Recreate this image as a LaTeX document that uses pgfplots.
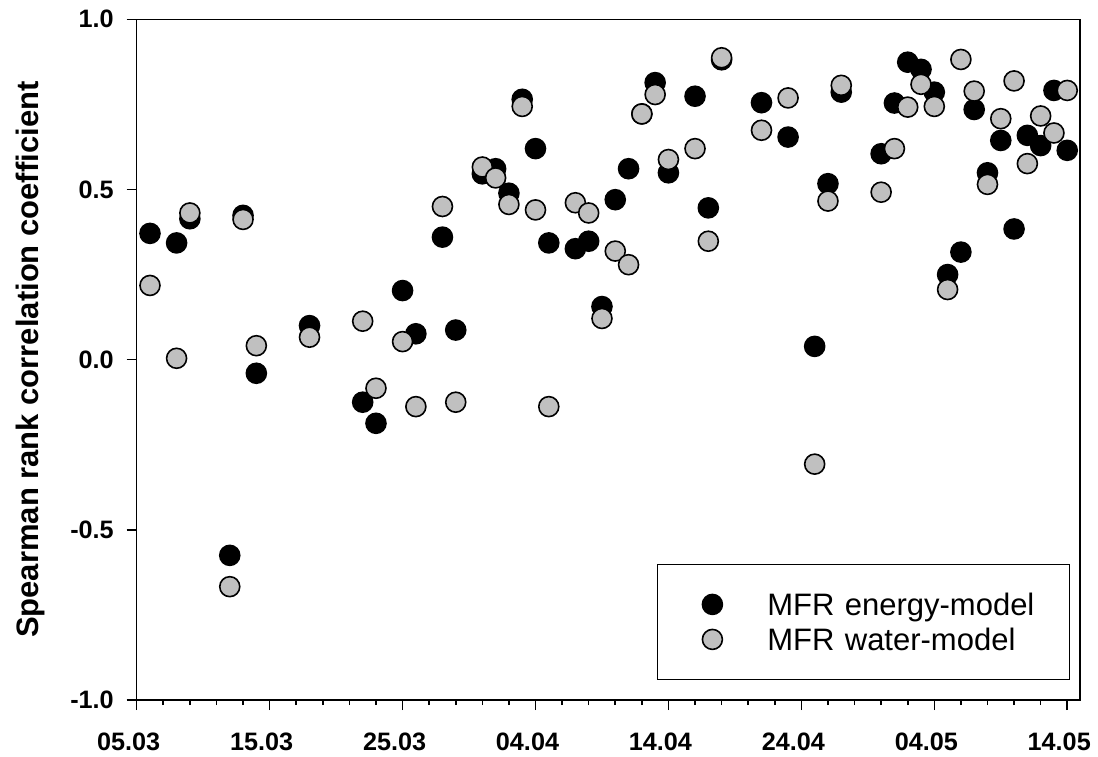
\documentclass[border=0pt]{standalone}
\usepackage{fontspec}
\setmainfont{Liberation Sans}
\usepackage{pgfplots}
\pgfplotsset{compat=1.18}
\definecolor{markgray}{RGB}{192,192,192}
\begin{document}
\begin{tikzpicture}
\begin{axis}[
  scale only axis,
  width=471.65pt, height=340.35pt,
  xmin=0, xmax=70.96, ymin=-1, ymax=1,
  axis line style={line width=0.8pt},
  tick style={line width=0.8pt, black},
  tick align=outside, tick pos=left,
  major tick length=5pt, minor tick length=2.6pt,
  xtick={0,10,...,70},
  xticklabels={05.03,15.03,25.03,04.04,14.04,24.04,04.05,14.05},
  minor xtick={2,4,...,68},
  ytick={-1,-0.5,0,0.5,1},
  yticklabels={-1.0,-0.5,0.0,0.5,1.0},
  ticklabel style={font=\fontsize{12.6}{14}\selectfont\bfseries, inner sep=0pt},
  xticklabel style={xshift=-4pt},
  xticklabel shift=11pt,
  yticklabel shift=6.3pt,
  ylabel={Spearman rank correlation coefficient},
  ylabel style={font=\fontsize{15.5}{18}\selectfont\bfseries, at={(axis description cs:-0.1131,0.5)}, anchor=center, inner sep=0pt},
  legend style={at={(axis description cs:0.98940,0.02938)}, anchor=south east,
    draw=black, line width=0.6pt, fill=white, inner xsep=0pt, inner ysep=11.25pt,
    font=\fontsize{15.5}{18}\selectfont, row sep=0pt,
    nodes={inner sep=0pt, text height=14.3pt, text depth=3.2pt, text width=151pt, align=left}},
  legend image code/.code={\path[draw=none,fill=none] (-27.5pt,0pt) -- (27.5pt,0pt); \draw[#1] plot coordinates {(0pt,0pt)};},
]
\addplot[only marks, mark=*, mark size=5pt, mark options={draw=black, fill=black, line width=0.8pt}] coordinates {
(1,0.371)(3,0.343)(4,0.414)(7,-0.575)(8,0.424)(9,-0.040)(13,0.100)(17,-0.125)(18,-0.187)(20,0.203)(21,0.076)(23,0.360)(24,0.087)(26,0.546)(27,0.561)(28,0.489)(29,0.765)(30,0.620)(31,0.343)(33,0.326)(34,0.348)(35,0.156)(36,0.470)(37,0.561)(38,0.722)(39,0.814)(40,0.549)(42,0.774)(43,0.446)(44,0.881)(47,0.755)(49,0.654)(51,0.039)(52,0.517)(53,0.786)(56,0.605)(57,0.754)(58,0.874)(59,0.853)(60,0.786)(61,0.250)(62,0.316)(63,0.735)(64,0.549)(65,0.644)(66,0.384)(67,0.659)(68,0.629)(69,0.791)(70,0.615)
};
\addlegendentry{MFR energy-model}
\addplot[only marks, mark=*, mark size=5pt, mark options={draw=black, fill=markgray, line width=0.8pt}] coordinates {
(1,0.218)(3,0.004)(4,0.431)(7,-0.667)(8,0.412)(9,0.041)(13,0.066)(17,0.113)(18,-0.084)(20,0.053)(21,-0.138)(23,0.450)(24,-0.125)(26,0.566)(27,0.534)(28,0.456)(29,0.744)(30,0.440)(31,-0.138)(33,0.461)(34,0.431)(35,0.121)(36,0.319)(37,0.279)(38,0.722)(39,0.779)(40,0.588)(42,0.620)(43,0.348)(44,0.887)(47,0.674)(49,0.769)(51,-0.307)(52,0.466)(53,0.806)(56,0.492)(57,0.620)(58,0.742)(59,0.809)(60,0.744)(61,0.206)(62,0.882)(63,0.789)(64,0.515)(65,0.708)(66,0.819)(67,0.576)(68,0.716)(69,0.666)(70,0.791)
};
\addlegendentry{MFR water-model}
\end{axis}
\pgfresetboundingbox
\path[use as bounding box] ([xshift=-68.35pt,yshift=-28pt]current axis.south west) rectangle ([xshift=9pt,yshift=9.65pt]current axis.north east);
\end{tikzpicture}
\end{document}
